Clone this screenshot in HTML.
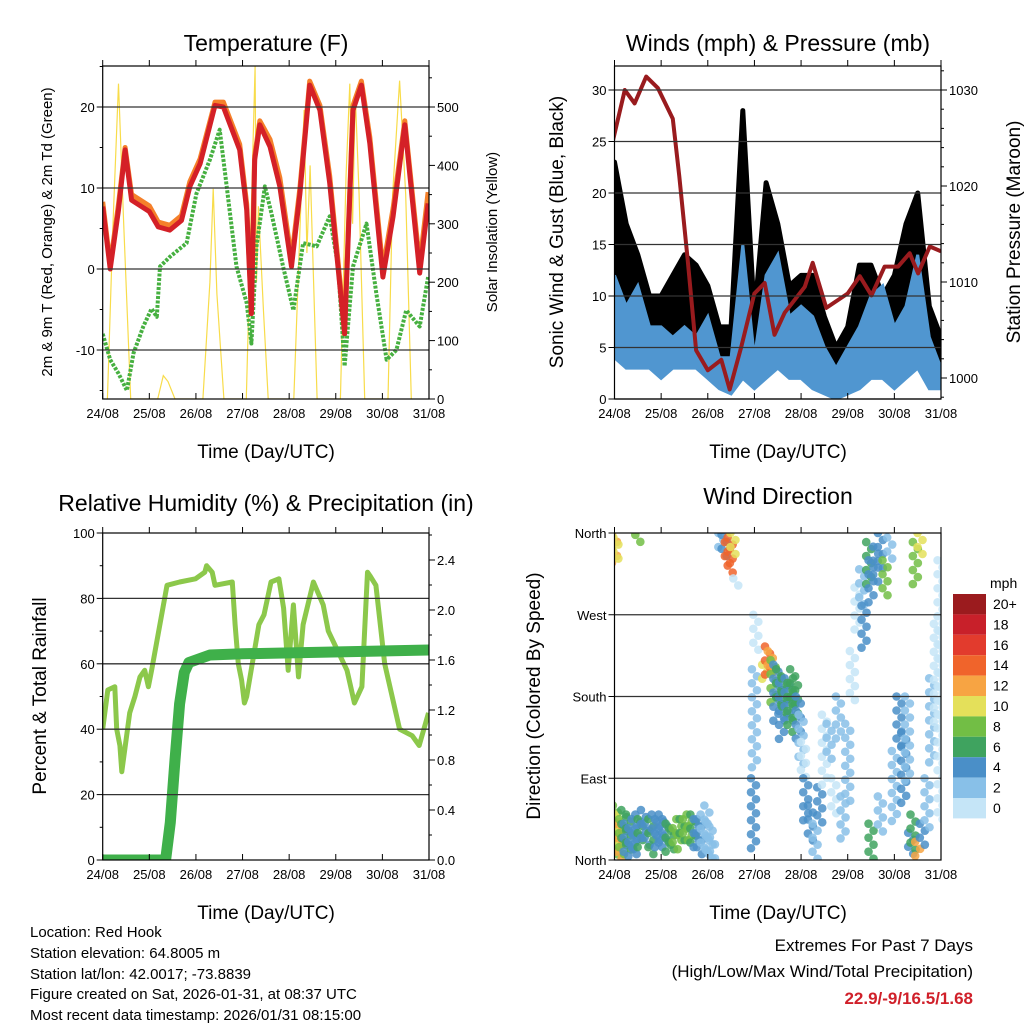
<!DOCTYPE html>
<html><head><meta charset="utf-8"><style>
html,body{margin:0;padding:0;background:#fff;}
svg{display:block;font-family:"Liberation Sans",sans-serif;}
</style></head><body>
<svg id="c" width="1024" height="1024" viewBox="0 0 1024 1024">
<g font-size="23" text-anchor="middle" fill="#000">
<text x="266" y="51">Temperature (F)</text>
<text x="778" y="51">Winds (mph) &amp; Pressure (mb)</text>
<text x="266" y="511">Relative Humidity (%) &amp; Precipitation (in)</text>
<text x="778" y="504">Wind Direction</text>
</g>
<g font-size="19" text-anchor="middle">
<text x="266" y="458">Time (Day/UTC)</text>
<text x="778" y="458">Time (Day/UTC)</text>
<text x="266" y="919">Time (Day/UTC)</text>
<text x="778" y="919">Time (Day/UTC)</text>
</g>
<g text-anchor="middle">
<text transform="translate(52,232) rotate(-90)" font-size="15">2m &amp; 9m T (Red, Orange) &amp; 2m Td (Green)</text>
<text transform="translate(497,232) rotate(-90)" font-size="15">Solar Insolation (Yellow)</text>
<text transform="translate(563,232) rotate(-90)" font-size="19">Sonic Wind &amp; Gust (Blue, Black)</text>
<text transform="translate(1020,232) rotate(-90)" font-size="19">Station Pressure (Maroon)</text>
<text transform="translate(46,696) rotate(-90)" font-size="19">Percent &amp; Total Rainfall</text>
<text transform="translate(540,696) rotate(-90)" font-size="19">Direction (Colored By Speed)</text>
</g>
<g font-size="15">
<text x="30" y="937">Location: Red Hook</text>
<text x="30" y="958">Station elevation: 64.8005 m</text>
<text x="30" y="979">Station lat/lon: 42.0017; -73.8839</text>
<text x="30" y="999">Figure created on Sat, 2026-01-31, at 08:37 UTC</text>
<text x="30" y="1020">Most recent data timestamp: 2026/01/31 08:15:00</text>
</g>
<g font-size="17" text-anchor="end">
<text x="973" y="951">Extremes For Past 7 Days</text>
<text x="973" y="977">(High/Low/Max Wind/Total Precipitation)</text>
<text x="973" y="1004" font-weight="bold" fill="#d0202a">22.9/-9/16.5/1.68</text>
</g>
</svg>
<script>
// ---------- DATA ----------
const dayLabels=["24/08","25/08","26/08","27/08","28/08","29/08","30/08","31/08"];
const tDays=[0,0.16,0.34,0.48,0.62,1.0,1.19,1.44,1.69,1.87,2.09,2.41,2.59,2.94,3.09,3.19,3.26,3.37,3.59,3.8,4.05,4.23,4.44,4.66,4.87,5.19,5.37,5.55,5.73,6.01,6.23,6.48,6.8,6.98];
const tRed=[7.7,0,7.3,14.7,8.5,7.1,5.2,4.8,6,10.2,13,20.2,20,14.7,7.3,-5.5,13.5,17.8,15.1,10.2,0.3,9.3,22.7,19.6,10.6,-8,19.6,22.7,15.5,-1,6.5,17.8,-0.5,8.1];
const tOrange=[8.3,0.5,8,15,9.2,7.8,5.8,5.4,6.6,10.8,13.6,20.6,20.6,15.4,8,-5,14,18.3,16,11.3,1.2,10,23.2,20.2,11.5,-7.4,20.2,23.2,16.3,0,7.5,18.3,0.5,9.5];
const tdDays=[0,0.16,0.34,0.52,0.66,0.87,1.05,1.16,1.23,1.44,1.8,2.01,2.3,2.51,2.66,2.87,3.09,3.19,3.3,3.48,3.62,3.87,4.09,4.3,4.59,4.87,5.05,5.19,5.37,5.66,5.87,6.09,6.3,6.51,6.8,6.98];
const tdGreen=[-8,-11.2,-12.9,-15,-10.4,-7.1,-4.9,-5.9,0.3,1.5,3.2,9.3,13.5,17.2,10.2,0.3,-4.2,-9.2,2.8,10.2,6.9,0.3,-5.1,3.2,2.8,6.5,0.3,-12,0.3,5.6,-3,-11.2,-10,-5.1,-7.1,-1];
const solDays=[0.1,0.22,0.34,0.45,0.6,1.18,1.3,1.4,1.55,2.15,2.3,2.37,2.45,2.6,3.08,3.18,3.27,3.3,3.34,3.45,3.55,4.1,4.25,4.32,4.38,4.45,4.6,5.1,5.22,5.3,5.36,5.42,5.5,5.62,6.12,6.22,6.37,6.5,6.62];
const solVals=[0,300,540,300,0,0,40,30,0,0,200,360,180,0,0,300,570,200,330,150,0,0,330,495,250,400,0,0,380,540,300,520,350,0,0,350,545,350,0];
const wDays=[0,0.25,0.5,0.75,1,1.25,1.5,1.75,2,2.25,2.5,2.75,3,3.25,3.5,3.75,4,4.25,4.5,4.75,5,5.25,5.5,5.75,6,6.25,6.5,6.75,7];
const blueMax=[12,9,11,7,7,6,7,6,8,4,4,15,4,12,14,8,9,8,5,3,5,7,10,11,7,9,14,6,3];
const blueMin=[4,3,3,3,2,3,3,3,2,1,0.5,2,1,2,3,2,2,1,0.5,0,0.5,1,2,2,1,2,3,1,1];
const gustMax=[23,17,14,10,10,12,14,13,11,7,7,28,8,21,17,11,12,12,8,5,7,13,13,10,12,17,20,9,6];
const gustMin=[6,6,5,4,5,4,5,4,5,3,2,8,2,8,7,4,5,3,2,0.5,1,4,4,4,4,5,6,2,2];
const pDays=[-0.03,0.22,0.43,0.68,0.93,1.25,1.39,1.57,1.75,2.0,2.29,2.47,2.72,3.0,3.22,3.43,3.65,4.08,4.25,4.54,5.0,5.26,5.51,5.79,6.08,6.33,6.51,6.76,7.0];
const pVals=[1024.8,1030,1028.6,1031.4,1030.2,1027,1021,1012.3,1002.9,1000.8,1001.9,998.8,1003.3,1008.8,1009.9,1004.5,1006.8,1009.5,1012,1007.3,1008.8,1010.6,1008.6,1011.6,1011.6,1013,1010.9,1013.7,1013.2];
const rhDays=[0,0.11,0.26,0.3,0.37,0.41,0.58,0.69,0.8,0.9,0.98,1.05,1.38,1.65,1.99,2.19,2.23,2.35,2.41,2.78,2.84,2.91,2.98,3.04,3.09,3.35,3.46,3.61,3.78,3.88,3.98,4.09,4.2,4.3,4.52,4.73,4.84,5.24,5.4,5.56,5.68,5.73,5.86,6.05,6.37,6.64,6.79,6.99];
const rhVals=[40,52,53,40,35,27,45,50,56,58,53,58,84,85,86,88,90,88,84,85,72,60,55,48,50,72,75,85,86,77,58,78,56,72,85,78,70,58,48,53,88,87,84,60,40,38,35,45];
const prDays=[0,1.35,1.45,1.55,1.65,1.75,1.85,2.0,2.3,3.0,7.0];
const prVals=[0,0,0.3,0.8,1.25,1.5,1.58,1.6,1.64,1.65,1.68];
const dirStacks=[[0,325,358,12],[0.03,330,355,11],[0.5,350,358,9],
[0.02,0,60,8],[0.06,5,50,10],[0.1,0,40,12],[0.15,5,45,9],[0.2,10,55,7],[0.25,5,40,5],[0.3,10,50,6],[0.35,0,35,4],[0.42,5,45,5],[0.5,15,50,4],[0.55,10,45,6],[0.62,20,55,5],[0.7,10,40,4],[0.78,5,45,6],[0.85,20,50,4],[0.92,10,45,5],[1.0,15,50,5],[1.08,10,45,4],[1.15,5,40,6],[1.22,5,35,7],[1.3,10,35,8],[1.38,20,45,8],[1.45,20,45,7],[1.52,20,45,8],[1.6,20,50,8],[1.68,15,50,6],[1.75,10,45,4],[1.82,5,45,4],[1.9,10,50,3],[1.98,5,60,2],[2.05,0,40,3],[2.1,0,25,2],
[2.28,340,360,3],[2.35,330,358,5],[2.42,320,350,14],[2.48,310,355,14],[2.54,330,360,10],[2.6,300,310,1],
[2.98,10,90,4],[3.0,100,210,2],[3.03,230,270,1],
[3.22,195,215,11],[3.28,200,235,14],[3.34,200,230,12],[3.4,170,220,8],[3.46,150,215,4],[3.52,170,210,6],[3.58,130,195,4],[3.64,160,200,6],[3.7,150,200,4],[3.76,140,195,6],[3.82,170,210,7],[3.88,150,200,6],[3.94,130,180,4],[4.0,100,160,2],[4.05,90,130,1],[4.1,40,90,4],[4.2,20,60,4],[4.3,0,40,2],[4.4,40,80,4],[4.5,80,160,1],[4.6,110,150,2],[4.7,50,90,1],[4.8,130,180,2],[4.9,20,70,2],[5.0,60,150,2],[5.1,170,230,0],[5.2,250,300,1],[5.3,280,320,2],[5.35,230,280,4],[5.45,300,350,6],[5.5,280,330,4],[5.6,300,345,4],[5.7,320,360,5],[5.8,290,330,8],[5.9,330,355,3],[5.5,0,40,6],[5.7,30,70,2],[6.0,40,120,3],[6.1,120,180,4],[6.2,60,140,4],[6.28,80,180,2],[6.35,0,30,4],[6.4,10,50,6],[6.45,300,350,9],[6.5,0,20,12],[6.55,330,360,11],[6.6,15,40,5],[6.7,30,90,3],[6.8,100,200,2],[6.9,150,260,1],[6.98,40,330,0]];
const speedLabels=["20+","18","16","14","12","10","8","6","4","2","0"];
const speedColors=["#9b1b1e","#c8202a","#e23b2d","#f0642b","#f7a443","#e4e05a","#72be45","#3fa35f","#4a8fc8","#88c0e8","#c5e5f7"];
const dirLabels=["North","East","South","West","North"];

// ---------- HELPERS ----------
const svg=document.getElementById('c');
const NS="http://www.w3.org/2000/svg";
function mk(tag,attrs,parent){const e=document.createElementNS(NS,tag);for(const k in attrs)e.setAttribute(k,attrs[k]);(parent||svg).appendChild(e);return e;}
function P(x0,x1,y0,y1){return {x0,x1,y0,y1,x:d=>x0+d*(x1-x0)/7};}
const p1=P(102.7,429,66,399),p2=P(614.5,941,66,399),p3=P(102.7,429,533,860),p4=P(614.5,941,533,860);
const yT=v=>269-v*8.1, yS=v=>399-v*0.584, yW=v=>399-v*10.3, yP=p=>90+(1030-p)*9.6;
const yRH=v=>860-v*3.27, yPR=v=>860-v*125, yDir=d=>860-d*81.75/90;
function poly(xs,ys){return xs.map((x,i)=>x.toFixed(1)+","+ys[i].toFixed(1)).join(" ");}
function clipFor(p,id){const cp=mk('clipPath',{id});mk('rect',{x:p.x0,y:p.y0,width:p.x1-p.x0,height:p.y1-p.y0},cp);return "url(#"+id+")";}

function frame(p,name,gridYs,leftTicks,rightTicks,minorL,minorR){
  const g=mk('g',{});
  
  
  gridYs.forEach(y=>{const l=mk('line',{x1:p.x0,x2:p.x1,y1:y,y2:y,stroke:'#333','stroke-width':1.3},g);
    
    });
  for(let i=0;i<8;i++){const x=p.x(i);
    mk('line',{x1:x,x2:x,y1:p.y1,y2:p.y1-6,stroke:'#000','stroke-width':1},g);
    mk('line',{x1:x,x2:x,y1:p.y0,y2:p.y0-6,stroke:'#000','stroke-width':1},g);
    const t=mk('text',{x:x,y:p.y1+19,'font-size':13,'text-anchor':'middle'},g);t.textContent=dayLabels[i];
    
    }
  leftTicks.forEach(([y,s])=>{mk('line',{x1:p.x0,x2:p.x0-6,y1:y,y2:y,stroke:'#000'},g);
    const t=mk('text',{x:p.x0-8,y:y+5,'font-size':13,'text-anchor':'end'},g);t.textContent=s;
    
    });
  rightTicks.forEach(([y,s])=>{mk('line',{x1:p.x1,x2:p.x1+6,y1:y,y2:y,stroke:'#000'},g);
    const t=mk('text',{x:p.x1+8,y:y+5,'font-size':13,'text-anchor':'start'},g);t.textContent=s;
    
    });
  (minorL||[]).forEach(y=>mk('line',{x1:p.x0,x2:p.x0-3,y1:y,y2:y,stroke:'#000'},g));
  (minorR||[]).forEach(y=>mk('line',{x1:p.x1,x2:p.x1+3,y1:y,y2:y,stroke:'#000'},g));
  const b=mk('rect',{x:p.x0,y:p.y0,width:p.x1-p.x0,height:p.y1-p.y0,fill:'none',stroke:'#000','stroke-width':1.2},g);
  
  
}

// ---------- PANEL 1: Temperature ----------
const c1=clipFor(p1,'c1');
const g1=mk('g',{'clip-path':c1});


const sol=mk('polyline',{points:poly(solDays.map(p1.x),solVals.map(yS)),fill:'none',stroke:'#f8dc4a','stroke-width':1.2},g1);


const td=mk('polyline',{points:poly(tdDays.map(p1.x),tdGreen.map(yT)),fill:'none',stroke:'#46b040','stroke-width':4,'stroke-dasharray':'3 1.5','stroke-linejoin':'round'},g1);


const to=mk('polyline',{points:poly(tDays.map(p1.x),tOrange.map(yT)),fill:'none',stroke:'#f5802a','stroke-width':5,'stroke-linejoin':'round'},g1);


const tr=mk('polyline',{points:poly(tDays.map(p1.x),tRed.map(yT)),fill:'none',stroke:'#d42027','stroke-width':5,'stroke-linejoin':'round'},g1);


frame(p1,'temperature',[yT(20),yT(10),yT(0),yT(-10)],[[yT(20),'20'],[yT(10),'10'],[yT(0),'0'],[yT(-10),'-10']],
 [0,100,200,300,400,500].map(v=>[yS(v),String(v)]),[yT(25),yT(15),yT(5),yT(-5),yT(-15)],[50,150,250,350,450,550].map(yS));

// ---------- PANEL 2: Winds ----------
const c2=clipFor(p2,'c2');
const g2=mk('g',{'clip-path':c2});


const gx=wDays.map(p2.x);
const gust=mk('polygon',{points:poly(gx.concat(gx.slice().reverse()),gustMax.map(yW).concat(gustMin.map(yW).reverse())),fill:'#000',stroke:'#000','stroke-width':5,'stroke-linejoin':'round'},g2);


const blue=mk('polygon',{points:poly(gx.concat(gx.slice().reverse()),blueMax.map(yW).concat(blueMin.map(yW).reverse())),fill:'#5096d0',stroke:'#5096d0','stroke-width':3},g2);


const pr=mk('polyline',{points:poly(pDays.map(p2.x),pVals.map(yP)),fill:'none',stroke:'#991b1e','stroke-width':4,'stroke-linejoin':'round'},g2);


frame(p2,'winds',[0,5,10,15,20,25,30].map(yW),[0,5,10,15,20,25,30].map(v=>[yW(v),String(v)]),
 [1000,1010,1020,1030].map(v=>[yP(v),String(v)]),[],[998,1002,1004,1006,1008,1012,1014,1016,1018,1022,1024,1026,1028,1032].map(yP));

// ---------- PANEL 3: RH & precipitation ----------
const c3=clipFor(p3,'c3');
const g3=mk('g',{'clip-path':c3});


const rh=mk('polyline',{points:poly(rhDays.map(p3.x),rhVals.map(yRH)),fill:'none',stroke:'#8cc84b','stroke-width':5,'stroke-linejoin':'round'},g3);


const pc=mk('polyline',{points:poly(prDays.map(p3.x),prVals.map(yPR)),fill:'none',stroke:'#3fb04a','stroke-width':11,'stroke-linejoin':'round','stroke-linecap':'round'},g3);


frame(p3,'humidity',[20,40,60,80].map(yRH),[0,20,40,60,80,100].map(v=>[yRH(v),String(v)]),
 [0,0.4,0.8,1.2,1.6,2.0,2.4].map(v=>[yPR(v),v.toFixed(1)]),[10,30,50,70,90].map(yRH),[0.2,0.6,1.0,1.4,1.8,2.2,2.6].map(yPR));

// ---------- PANEL 4: Wind direction ----------
const c4=clipFor(p4,'c4');
const g4=mk('g',{'clip-path':c4});


function spColor(s){const idx=Math.min(10,Math.floor(s/2));return speedColors[10-idx];}
dirStacks.forEach(([d,lo,hi,s])=>{
  const x=p4.x(d),ya=yDir(hi),yb=yDir(lo);
  let k=0;
  for(let y=ya;y<=yb+0.1;y+=7){
    const dot=mk('circle',{cx:x+((k%2)?2.5:-2.5),cy:y,r:4.3,fill:spColor(s),'fill-opacity':0.85},g4);
    
    
    k++;
  }
});
frame(p4,'wind-direction',[90,180,270].map(yDir),[0,90,180,270,360].map((v,i)=>[yDir(v),dirLabels[i]]),[],[],[]);
// colorbar
const cb=mk('g',{});


const cbt=mk('text',{x:990,y:588,'font-size':14,'text-anchor':'start'},cb);cbt.textContent='mph';


speedLabels.forEach((lab,i)=>{
  const y=594+i*20.4;
  const r=mk('rect',{x:953,y:y,width:33,height:20.4,fill:speedColors[i]},cb);
  
  
  const t=mk('text',{x:993,y:y+15,'font-size':14},cb);t.textContent=lab;
  
  
});
</script>
</body></html>
